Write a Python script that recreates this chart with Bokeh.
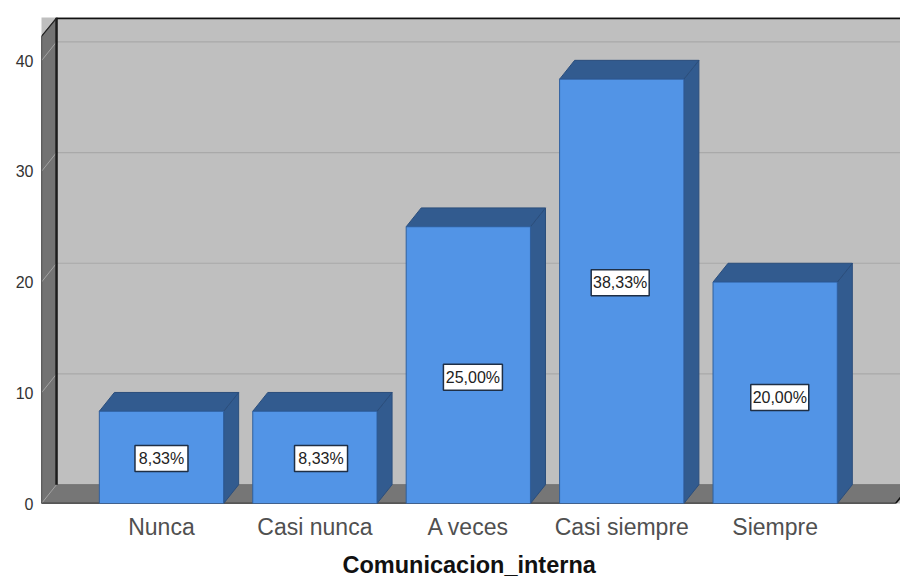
from bokeh.plotting import figure
from bokeh.models import ColumnDataSource, FixedTicker, Title
from bokeh.embed import file_html
from bokeh.resources import INLINE
from bokeh.core.properties import value

categories = ["Nunca", "Casi nunca", "A veces", "Casi siempre", "Siempre"]
percent = [8.33, 8.33, 25.00, 38.33, 20.00]
label_text = ["8,33%", "8,33%", "25,00%", "38,33%", "20,00%"]
label_x = [0.0, 1.04, 2.03, 2.99, 4.03]
label_y = [4.06, 4.06, 11.4, 19.95, 9.57]
label_w = [53, 53, 59, 58, 58]
y_ticks = [0, 10, 20, 30, 40]
x_title = "Comunicacion_interna"

X0, X1 = -0.782, 4.817
Y1 = 43.9
DX, DY = 0.098, 1.7
WALL_TOP = 42.2
FLOOR_END = 4.785
HW = 0.405
FONT = "Liberation Sans"

p = figure(width=900, height=585, x_range=(X0, X1), y_range=(0, Y1),
           min_border_left=41, min_border_right=0, min_border_top=17, min_border_bottom=82,
           output_backend="svg", toolbar_location=None, background_fill_color="#bfbfbf",
           border_fill_color="white", outline_line_color=None)
p.grid.visible = False

# back wall gridlines
p.segment(x0=[X0 + DX] * 5, x1=[X1] * 5, y0=[t + DY for t in y_ticks], y1=[t + DY for t in y_ticks],
          line_color="#a9a9a9", line_width=1.2)

# floor
p.patch([X0, X0 + DX, X1 + DX, FLOOR_END], [0, DY, DY, 0], fill_color="#767676", line_color="#767676")
# left wall
p.patch([X0, X0 + DX, X0 + DX, X0], [0, DY, Y1, WALL_TOP], fill_color="#737373", line_color="#737373")
p.segment(x0=[X0] * 5, x1=[X0 + DX] * 5, y0=y_ticks, y1=[t + DY for t in y_ticks],
          line_color="#a3a3a3", line_width=1)
# frame lines
p.line([X0 + DX, X0 + DX], [DY, Y1], line_color="#1c1c1c", line_width=2.5)
p.line([X0 + DX, X1], [Y1 - 0.06, Y1 - 0.06], line_color="#111111", line_width=2)
p.line([X0, X0, X0 + DX], [0, WALL_TOP, Y1 - 0.06], line_color="#222222", line_width=1.2)
p.line([X0, FLOOR_END, FLOOR_END + DX], [0, 0, DY], line_color="#111111", line_width=1.6)

# bars
xs = list(range(len(categories)))
top_x = [[x - HW, x - HW + DX, x + HW + DX, x + HW] for x in xs]
top_y = [[v, v + DY, v + DY, v] for v in percent]
side_x = [[x + HW, x + HW + DX, x + HW + DX, x + HW] for x in xs]
side_y = [[0, DY, v + DY, v] for v in percent]
p.patches(side_x, side_y, fill_color="#325b8f", line_color="#2b4e7c", line_width=1)
p.patches(top_x, top_y, fill_color="#325b8f", line_color="#2b4e7c", line_width=1)
p.quad(left=[x - HW for x in xs], right=[x + HW for x in xs], bottom=[0] * 5, top=percent,
       fill_color="#5294e6", line_color="#2f5f9e", line_width=1)

# value labels
src = ColumnDataSource(dict(x=label_x, y=label_y, w=label_w, t=label_text))
p.rect("x", "y", width="w", height=26, width_units="screen", height_units="screen", source=src,
       fill_color="white", line_color="#1f2f45", line_width=1.5)
p.text("x", "y", text="t", source=src, text_align="center", text_baseline="middle",
       text_font=value(FONT), text_font_size="16px", text_color="#222222")

# axes
ax = p.yaxis[0]
ax.ticker = FixedTicker(ticks=y_ticks)
ax.axis_line_color = None
ax.major_tick_line_color = None
ax.minor_tick_line_color = None
ax.major_tick_out = 0
ax.minor_tick_out = 0
ax.major_label_text_font = FONT
ax.major_label_text_font_size = "16px"
ax.major_label_text_color = "#333333"
ax.major_label_standoff = 8

bx = p.xaxis[0]
bx.ticker = FixedTicker(ticks=xs)
bx.major_label_overrides = {i: c for i, c in enumerate(categories)}
bx.axis_line_color = None
bx.major_tick_line_color = None
bx.minor_tick_line_color = None
bx.major_tick_out = 0
bx.minor_tick_out = 0
bx.major_label_text_font = FONT
bx.major_label_text_font_size = "23px"
bx.major_label_text_color = "#505050"
bx.major_label_standoff = 10

p.add_layout(Title(text=x_title, align="left", offset=301, vertical_align="bottom", text_font=FONT,
                   text_font_size="23.5px", text_font_style="bold", text_color="#111111",
                   standoff=15), "below")

open("out.html", "w").write(file_html(p, INLINE))
